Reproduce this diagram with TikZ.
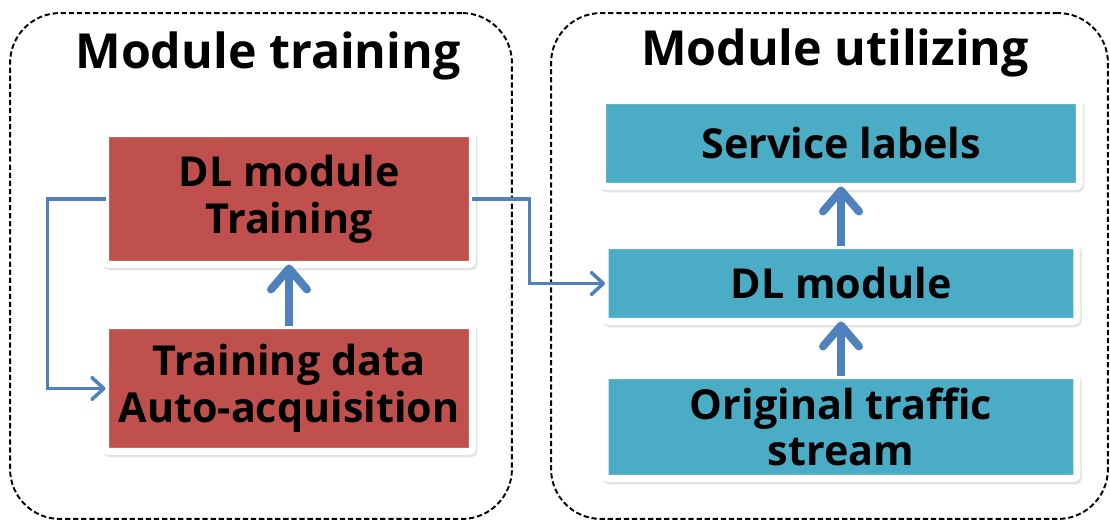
\documentclass[tikz,border=0pt]{standalone}
\usepackage{fontspec}
\setmainfont{Open Sans}
\usetikzlibrary{arrows.meta,positioning,shadows}
\definecolor{trainColor}{RGB}{192,80,77}
\definecolor{useColor}{RGB}{75,172,198}
\definecolor{flowColor}{RGB}{79,129,189}
\tikzset{panel/.style={draw, line width=1.1pt, dash pattern=on 3pt off 1.6pt, rounded corners=1cm}}
\tikzset{block/.style={draw=white, line width=0.14cm, outer sep=0pt, rounded corners=2pt, align=center, font=\fontsize{23.5}{26.5}\selectfont\bfseries, drop shadow={shadow xshift=0.8pt, shadow yshift=-1.4pt, fill=black!22, draw=black!22, line width=0.14cm}}}
\tikzset{trainbox/.style={block, fill=trainColor}}
\tikzset{usebox/.style={block, fill=useColor}}
\tikzset{paneltitle/.style={font=\fontsize{27.5}{33}\selectfont\bfseries}}
\tikzstyle{bigarrow} = [draw=flowColor, line width=0.16cm, -{Straight Barb[round, length=0.42cm, width=0.72cm]}]
\tikzstyle{thinarrow} = [draw=flowColor, line width=0.07cm, -{Straight Barb[round, length=0.24cm, width=0.44cm]}]

\begin{document}
\begin{tikzpicture}[x=0.02cm, y=-0.02cm]
	\useasboundingbox (0,0) rectangle (1110,521);
	% Panels
	\node (trainpanel) [panel, minimum width=10.04cm, minimum height=10.12cm] at (261,266) {};
	\node (usepanel) [panel, minimum width=11.14cm, minimum height=10.12cm] at (829.5,266) {};
	\node (traintitle) [paneltitle] at (268,56) {Module training};
	\node (usetitle) [paneltitle] at (835,53) {Module utilizing};

	% Nodes
	\node (training) [trainbox, minimum width=7.34cm, minimum height=2.62cm] at (289,199) {DL module\\Training};
	\node (acquisition) [trainbox, minimum width=7.34cm, minimum height=2.52cm] at (289,388.5) {Training data\\Auto-acquisition};

	\node (labels) [usebox, minimum width=9.54cm, minimum height=1.72cm] at (841,143.5) {Service labels};
	\node (dlmodule) [usebox, minimum width=9.44cm, minimum height=1.52cm] at (841,283.5) {DL module};
	\node (traffic) [usebox, minimum width=9.44cm, minimum height=2.06cm] at (841,427) {Original traffic\\stream};

	% Connectors
	\begin{scope}
		\draw [bigarrow] (acquisition) -- (training);
		\draw [bigarrow] (dlmodule) -- (labels);
		\draw [bigarrow] (traffic) -- (dlmodule);

		\draw [thinarrow] (training.west) -- ++(-58,0) |- (acquisition.west);
		\draw [thinarrow] (training.east) -- ++(57,0) |- (dlmodule.west);
	\end{scope}

\end{tikzpicture}
\end{document}
